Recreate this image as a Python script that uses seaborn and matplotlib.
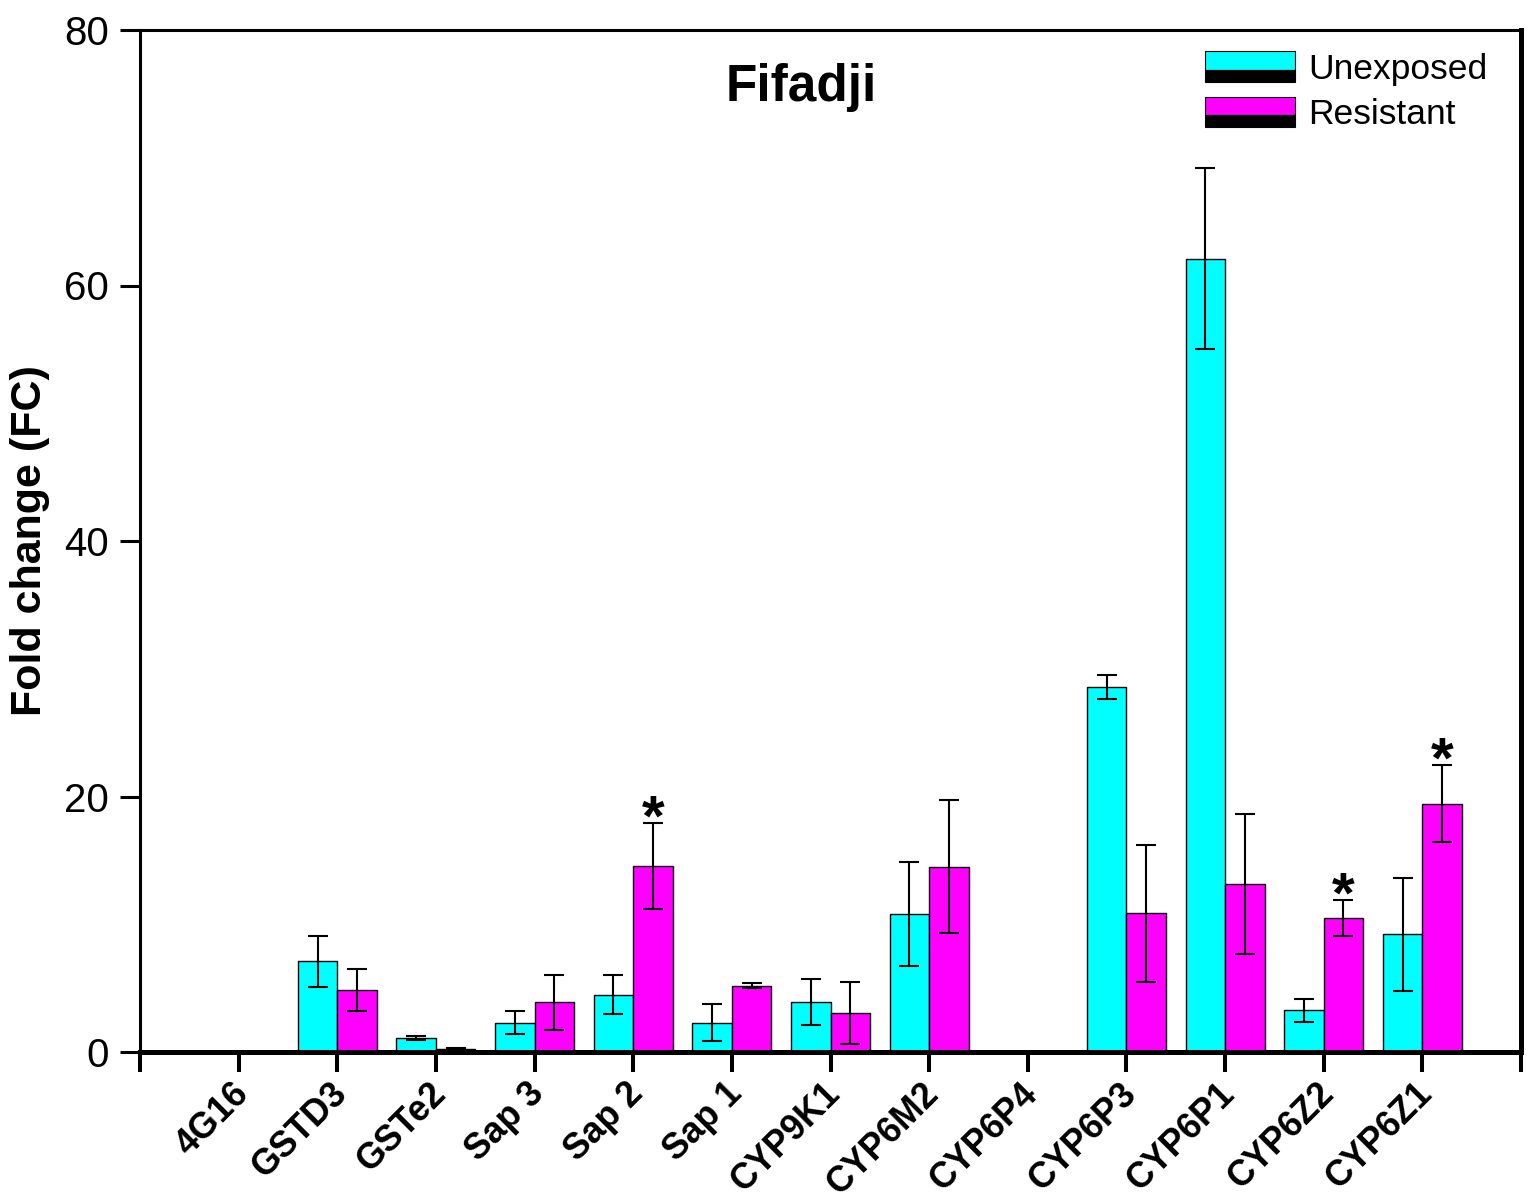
import matplotlib
matplotlib.use("Agg")
import matplotlib.pyplot as plt
from matplotlib.patches import Rectangle
from matplotlib.legend_handler import HandlerBase
import matplotlib.transforms as mtrans
import seaborn as sns
import pandas as pd

genes = ["4G16", "GSTD3", "GSTe2", "Sap 3", "Sap 2", "Sap 1", "CYP9K1",
         "CYP6M2", "CYP6P4", "CYP6P3", "CYP6P1", "CYP6Z2", "CYP6Z1"]
unexposed = [0, 7.1, 1.1, 2.3, 4.5, 2.3, 3.9, 10.8, 0, 28.6, 62.1, 3.25, 9.2]
unexposed_err = [0, 2.0, 0.15, 0.9, 1.55, 1.45, 1.8, 4.1, 0, 0.93, 7.1, 0.92, 4.4]
resistant = [0, 4.85, 0.2, 3.9, 14.55, 5.2, 3.05, 14.5, 0, 10.85, 13.15, 10.5, 19.45]
resistant_err = [0, 1.65, 0.1, 2.15, 3.35, 0.2, 2.45, 5.2, 0, 5.35, 5.45, 1.43, 3.0]
significant = ["Sap 2", "CYP6Z2", "CYP6Z1"]
groups = ["Unexposed", "Resistant"]
colors = ["#00FFFF", "#FF00FF"]

df = pd.DataFrame({
    "gene": genes * 2,
    "group": [groups[0]] * len(genes) + [groups[1]] * len(genes),
    "value": unexposed + resistant,
})

sns.set_style("white")
plt.rcParams["font.family"] = ["Liberation Sans", "DejaVu Sans"]
for k in ["text.color", "axes.labelcolor", "xtick.color", "ytick.color"]:
    plt.rcParams[k] = "black"

fig = plt.figure(figsize=(15.35, 12.02), dpi=100)
ax = fig.add_axes([140 / 1535, 1 - 1052 / 1202, 1381 / 1535, 1022 / 1202])

sns.barplot(data=df, x="gene", y="value", hue="group", order=genes,
            hue_order=groups, palette=colors, edgecolor="black", linewidth=1,
            errorbar=None, width=0.8, ax=ax, legend=False, saturation=1)

errs = [unexposed_err, resistant_err]
vals = [unexposed, resistant]
bar_conts = list(ax.containers)[:2]
for ci, cont in enumerate(bar_conts):
    for i, bar in enumerate(cont):
        if vals[ci][i] == 0 and errs[ci][i] == 0:
            continue
        xc = bar.get_x() + bar.get_width() / 2
        ax.errorbar(xc, bar.get_height(), yerr=errs[ci][i], fmt="none",
                    ecolor="black", elinewidth=1.5, capsize=7.2,
                    capthick=1.5, zorder=5)
        if ci == 1 and genes[i] in significant:
            ax.annotate("*", xy=(xc, vals[ci][i] + errs[ci][i]),
                        xytext=(0, -9), textcoords="offset points",
                        ha="center", va="baseline", fontsize=42,
                        fontweight="bold")

ax.set_xlim(-1, 13)
ax.set_ylim(0, 80)
ax.set_xticks(range(-1, 14))
ax.set_yticks([0, 20, 40, 60, 80])
ax.tick_params(axis="y", direction="out", length=14.4, width=2.2,
               labelsize=29, pad=8, left=True)
ax.tick_params(axis="x", direction="out", length=14.4, width=2.9,
               pad=5, bottom=True)
ax.set_xticklabels([""] + genes + [""], rotation=45, ha="right",
                   fontsize=25.7, fontweight="bold")
shift = mtrans.ScaledTranslation(17 / 100, 3 / 100, fig.dpi_scale_trans)
for lab in ax.get_xticklabels():
    lab.set_transform(lab.get_transform() + shift)
ax.set_xlabel("")
ax.set_ylabel("Fold change (FC)", fontsize=31, fontweight="bold", labelpad=10)

for side, lw in [("left", 2.2), ("top", 2.2), ("bottom", 3.6), ("right", 3.6)]:
    ax.spines[side].set_visible(True)
    ax.spines[side].set_linewidth(lw)
    ax.spines[side].set_color("black")

ax.text(0.479, 0.944, "Fifadji", transform=ax.transAxes, ha="center",
        va="center", fontsize=37, fontweight="bold", color="black")


class TwoTone(HandlerBase):
    def __init__(self, color):
        super().__init__()
        self.color = color

    def create_artists(self, legend, orig_handle, xdescent, ydescent,
                       width, height, fontsize, trans):
        top = Rectangle((-xdescent, -ydescent + height * 0.4), width,
                        height * 0.6, facecolor=self.color, edgecolor="black",
                        linewidth=0.8, transform=trans)
        bot = Rectangle((-xdescent, -ydescent), width, height * 0.4,
                        facecolor="black", edgecolor="black", linewidth=0.8,
                        transform=trans)
        return [top, bot]


h1 = Rectangle((0, 0), 1, 1)
h2 = Rectangle((0, 0), 1, 1)
ax.legend([h1, h2], groups, handler_map={h1: TwoTone(colors[0]), h2: TwoTone(colors[1])},
          loc="upper left", bbox_to_anchor=(0.771, 0.979), frameon=False,
          fontsize=25.5, handlelength=2.55, handleheight=0.95,
          labelspacing=0.3, handletextpad=0.37, borderpad=0, borderaxespad=0)

fig.savefig("out.png", dpi=100)
